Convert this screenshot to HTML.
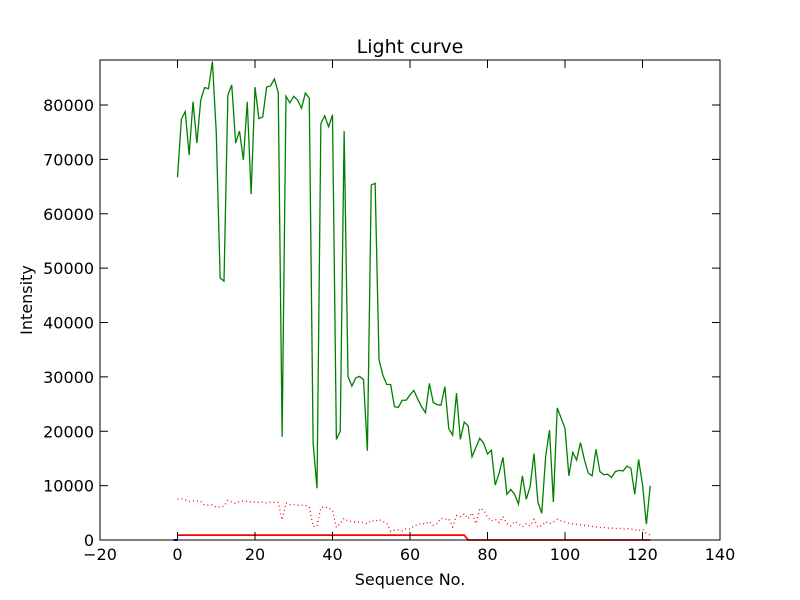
<!DOCTYPE html>
<html><head><meta charset="utf-8"><style>
body{margin:0;background:#fff;}
svg{display:block;font-family:"DejaVu Sans","Liberation Sans",sans-serif;}
</style></head><body>
<svg id="chart" width="800" height="600" viewBox="0 0 800 600">
<rect width="800" height="600" fill="#fff"/>
<text x="410" y="53" font-size="19" text-anchor="middle">Light curve</text>
<text x="410" y="585" font-size="16" text-anchor="middle">Sequence No.</text>
<text transform="translate(32,300) rotate(-90)" font-size="16" text-anchor="middle">Intensity</text>
<g id="marks"></g>
<g id="axes"></g>
</svg>
<script>
const xTicks=[-20,0,20,40,60,80,100,120,140];
const yTicks=[0,10000,20000,30000,40000,50000,60000,70000,80000];
const greenValues=[66700,77400,78800,70800,80600,73000,80900,83200,83000,88000,75000,48200,47600,81800,83700,73000,75200,69900,80600,63600,83300,77500,77800,83300,83500,84800,82300,19000,81600,80400,81600,80900,79400,82200,81300,17800,9500,76600,78000,76000,78200,18500,20000,75200,30100,28300,29800,30100,29500,16400,65300,65600,33200,30300,28600,28600,24500,24400,25700,25700,26700,27500,25900,24500,23400,28800,25300,24900,24800,28200,20500,19300,27000,18500,21700,21000,15300,17000,18700,17800,15800,16500,10100,12300,15200,8400,9300,8400,6600,11800,7500,9800,15900,7000,4900,15300,20200,7000,24300,22400,20500,11800,16100,14700,17900,14800,12300,11800,16700,12600,12000,12100,11500,12600,12800,12700,13600,13200,8400,14800,10200,2900,10000];
const redDotValues=[7500,7600,7400,7100,7200,7200,7100,6400,6400,6500,6000,6100,6200,7300,7000,6700,7100,7200,7100,7000,7000,6900,7000,6800,7000,6900,6900,3700,6800,6500,6500,6400,6400,6400,6000,2500,2500,6000,6100,5900,5500,2300,3000,4000,3500,3400,3300,3300,3200,3000,3600,3400,3800,3400,3100,1600,1800,1900,1700,2100,2000,2600,2800,3100,2900,3400,2700,3000,4000,3800,3900,2400,4500,4300,4800,3900,5000,3000,5800,5500,4200,3500,3800,3200,4300,3000,2600,3400,3000,2400,3000,2600,3800,2400,2700,3400,3000,3300,3800,3500,3300,3100,3000,2900,2800,2700,2600,2500,2400,2300,2300,2200,2200,2100,2200,2000,2100,2000,1900,1700,2000,1200,900];
const redStepX=[0,74,75,122];
const redStepValues=[900,900,0,0];
const blueX=[-1,0];
const blueValues=[0,0];
const L=100,R=720,T=60,B=540,xMin=-20,xMax=140,yMin=0,yMax=88276;
const sx=v=>L+(v-xMin)/(xMax-xMin)*(R-L);
const sy=v=>B-(v-yMin)/(yMax-yMin)*(B-T);
const NS="http://www.w3.org/2000/svg";
const marks=document.getElementById('marks'),axes=document.getElementById('axes');
function poly(xs,ys,color,dash,name,w){
  const p=document.createElementNS(NS,'polyline');
  p.setAttribute('points',xs.map((x,i)=>sx(x).toFixed(2)+','+sy(ys[i]).toFixed(2)).join(' '));
  p.setAttribute('fill','none');p.setAttribute('stroke',color);p.setAttribute('stroke-width',w||'1.3');
  if(dash)p.setAttribute('stroke-dasharray',dash);
  
  
  marks.appendChild(p);
}
const idx=greenValues.map((_,i)=>i);
poly(redStepX,redStepValues,'#ff0000',null,'red-step-series','1.8');
poly(idx.slice(0,redDotValues.length),redDotValues,'#ff0000','1 3','red-dotted-series');
poly(idx,greenValues,'#008000',null,'green-intensity-series');
poly(blueX,blueValues,'#0000ff',null,'blue-series','2');
const fr=document.createElementNS(NS,'rect');
fr.setAttribute('x',L);fr.setAttribute('y',T);fr.setAttribute('width',R-L);fr.setAttribute('height',B-T);
fr.setAttribute('fill','none');fr.setAttribute('stroke','#000');fr.setAttribute('stroke-width','1');


axes.appendChild(fr);
function line(x1,y1,x2,y2){const l=document.createElementNS(NS,'line');l.setAttribute('x1',x1);l.setAttribute('y1',y1);l.setAttribute('x2',x2);l.setAttribute('y2',y2);l.setAttribute('stroke','#000');axes.appendChild(l);return l;}
function text(x,y,s,anchor,name){const t=document.createElementNS(NS,'text');t.setAttribute('x',x);t.setAttribute('y',y);t.setAttribute('font-size','16');t.setAttribute('text-anchor',anchor);t.textContent=s;
  
  
  axes.appendChild(t);}
xTicks.forEach(v=>{const x=sx(v);
  const a=line(x,B,x,B-8);
  const b=line(x,T,x,T+8);
  text(x,B+20,String(v).replace('-','\u2212'),'middle','x-tick-label');});
yTicks.forEach(v=>{const y=sy(v);
  const a=line(L,y,L+8,y);
  const b=line(R,y,R-8,y);
  text(L-6,y+6,String(v),'end','y-tick-label');});
</script>
</body></html>
